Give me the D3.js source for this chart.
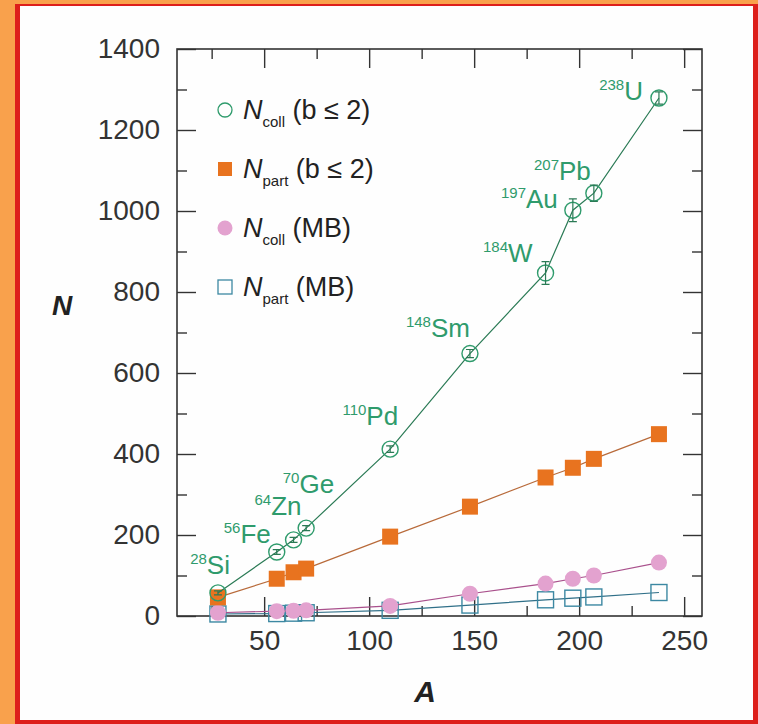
<!DOCTYPE html>
<html>
<head>
<meta charset="utf-8">
<script src="https://cdn.jsdelivr.net/npm/d3@7"></script>
<style>
body { margin: 0; background: #f9a14c; }
svg { display: block; font-family: "Liberation Sans", Arial, sans-serif; }
</style>
</head>
<body>
<div id="chart"></div>
<script>
// data
var massA      = [28, 56, 64, 70, 110, 148, 184, 197, 207, 238];
var nuclei     = [["28","Si"],["56","Fe"],["64","Zn"],["70","Ge"],["110","Pd"],["148","Sm"],["184","W"],["197","Au"],["207","Pb"],["238","U"]];
var ncollB2    = [57, 158, 188, 217, 412, 648, 847, 1002, 1044, 1279];
var ncollB2Err = [5, 6, 6, 6, 8, 10, 28, 28, 20, 15];
var npartB2    = [46, 92, 108, 117, 196, 270, 342, 366, 388, 449];
var ncollMB    = [8, 12, 13, 14, 25, 55, 80, 92, 100, 132];
var npartMB    = [5, 6, 7, 8, 14, 27, 40, 44, 47, 58];
var xMajor = [50, 100, 150, 200, 250];
var xMinor = [25, 75, 125, 175, 225];
var yMajor = [0, 200, 400, 600, 800, 1000, 1200, 1400];
var yMinor = [100, 300, 500, 700, 900, 1100, 1300];

// label placement offsets (px) relative to each point: [dx, dy] for end of label
var labelOffsets = [[12,-19],[-6,-9],[8,-25],[28,-35],[8,-24],[0,-17],[-13,-11],[-15,-2],[-3,-13],[-16,2]];

var W = 758, H = 724;
var svg = d3.select("#chart").append("svg")
    .attr("width", W).attr("height", H);

// frame
svg.append("rect").attr("x", 15).attr("y", 4).attr("width", 743).attr("height", 720).attr("fill", "#dd1f1b");
svg.append("rect").attr("x", 20).attr("y", 6).attr("width", 733).attr("height", 714).attr("fill", "#fefefe");

var x = d3.scaleLinear().domain([8.5, 258.5]).range([177, 702]);
var y = d3.scaleLinear().domain([0, 1400]).range([616, 49]);

var green = "#2f9b6c", greenDark = "#2a7a55";
var orange = "#e8731f";
var pink = "#e3a2cf", pinkLine = "#a9508c";
var blue = "#3c88a2", blueLine = "#2f6f88";

// axes
var axisColor = "#333";
var fmt = d3.format("d");
function styleAxis(g) {
  g.select(".domain").remove();
  g.selectAll("line").attr("stroke", axisColor).attr("stroke-width", 1.4);
  g.selectAll("text").attr("fill", "#333").style("font-size", "28px").style("font-family", "Liberation Sans, Arial, sans-serif");
}
svg.append("g").attr("transform", "translate(0,616)")
  .call(d3.axisBottom(x).tickValues(xMajor).tickSize(-19).tickPadding(14).tickFormat(fmt)).call(styleAxis);
svg.append("g").attr("transform", "translate(0,616)")
  .call(d3.axisBottom(x).tickValues(xMinor).tickSize(-10).tickFormat("")).call(styleAxis);
svg.append("g").attr("transform", "translate(0,49)")
  .call(d3.axisTop(x).tickValues(xMajor).tickSize(-19).tickFormat("")).call(styleAxis);
svg.append("g").attr("transform", "translate(0,49)")
  .call(d3.axisTop(x).tickValues(xMinor).tickSize(-10).tickFormat("")).call(styleAxis);
svg.append("g").attr("transform", "translate(177,0)")
  .call(d3.axisLeft(y).tickValues(yMajor).tickSize(-19).tickPadding(17).tickFormat(fmt)).call(styleAxis);
svg.append("g").attr("transform", "translate(177,0)")
  .call(d3.axisLeft(y).tickValues(yMinor).tickSize(-10).tickFormat("")).call(styleAxis);
svg.append("g").attr("transform", "translate(702,0)")
  .call(d3.axisRight(y).tickValues(yMajor).tickSize(-19).tickFormat("")).call(styleAxis);
svg.append("g").attr("transform", "translate(702,0)")
  .call(d3.axisRight(y).tickValues(yMinor).tickSize(-10).tickFormat("")).call(styleAxis);

svg.append("rect").attr("x", 177).attr("y", 49).attr("width", 525).attr("height", 567)
  .attr("fill", "none").attr("stroke", axisColor).attr("stroke-width", 1.6);

// axis titles
svg.append("text").attr("x", 62).attr("y", 315).attr("text-anchor", "middle")
  .style("font-size", "28px").style("font-weight", "bold").style("font-style", "italic")
  .attr("fill", "#222").text("N");
svg.append("text").attr("x", 425).attr("y", 702).attr("text-anchor", "middle")
  .style("font-size", "30px").style("font-weight", "bold").style("font-style", "italic")
  .attr("fill", "#222").text("A");

function pts(vals) { return massA.map(function(a, i) { return [a, vals[i]]; }); }
var line = d3.line().x(function(d) { return x(d[0]); }).y(function(d) { return y(d[1]); });

var plot = svg.append("g");

// N_part (MB) - open blue squares
plot.append("path").datum(pts(npartMB)).attr("d", line)
  .attr("fill", "none").attr("stroke", blueLine).attr("stroke-width", 1.2);
plot.selectAll(".sqMB").data(pts(npartMB)).enter().append("rect")
  .attr("x", function(d) { return x(d[0]) - 8; }).attr("y", function(d) { return y(d[1]) - 8; })
  .attr("width", 16).attr("height", 16)
  .attr("fill", "none").attr("stroke", blue).attr("stroke-width", 1.4);

// N_coll (MB) - pink filled circles
plot.append("path").datum(pts(ncollMB)).attr("d", line)
  .attr("fill", "none").attr("stroke", pinkLine).attr("stroke-width", 1.2);
plot.selectAll(".cMB").data(pts(ncollMB)).enter().append("circle")
  .attr("cx", function(d) { return x(d[0]); }).attr("cy", function(d) { return y(d[1]); })
  .attr("r", 8).attr("fill", pink);

// N_part (b<=2) - orange squares
plot.append("path").datum(pts(npartB2)).attr("d", line)
  .attr("fill", "none").attr("stroke", "#b86a3a").attr("stroke-width", 1.2);
plot.selectAll(".sqB").data(pts(npartB2)).enter().append("rect")
  .attr("x", function(d) { return x(d[0]) - 8; }).attr("y", function(d) { return y(d[1]) - 8; })
  .attr("width", 16).attr("height", 16).attr("fill", orange);

// N_coll (b<=2) - green open circles with error bars
plot.append("path").datum(pts(ncollB2)).attr("d", line)
  .attr("fill", "none").attr("stroke", greenDark).attr("stroke-width", 1.2);
var cg = plot.selectAll(".cB").data(pts(ncollB2)).enter().append("g");
cg.append("circle")
  .attr("cx", function(d) { return x(d[0]); }).attr("cy", function(d) { return y(d[1]); })
  .attr("r", 8).attr("fill", "none").attr("stroke", green).attr("stroke-width", 1.4);
cg.append("path")
  .attr("d", function(d, i) {
    var cx = x(d[0]), y1 = y(d[1] + ncollB2Err[i]), y2 = y(d[1] - ncollB2Err[i]);
    return "M" + cx + "," + y1 + "V" + y2 + "M" + (cx - 4) + "," + y1 + "H" + (cx + 4) + "M" + (cx - 4) + "," + y2 + "H" + (cx + 4);
  })
  .attr("fill", "none").attr("stroke", greenDark).attr("stroke-width", 1.2);

// nucleus labels
var lab = svg.selectAll(".nuc").data(nuclei).enter().append("text")
  .attr("x", function(d, i) { return x(massA[i]) + labelOffsets[i][0]; })
  .attr("y", function(d, i) { return y(ncollB2[i]) + labelOffsets[i][1]; })
  .attr("text-anchor", "end").attr("fill", green);
lab.append("tspan").style("font-size", "15px").attr("dy", -10).text(function(d) { return d[0]; });
lab.append("tspan").style("font-size", "26px").attr("dy", 10).text(function(d) { return d[1]; });

// legend
var legend = [
  {sym: "circleOpen", sub: "coll", rest: " (b \u2264 2)"},
  {sym: "squareFill", sub: "part", rest: " (b \u2264 2)"},
  {sym: "circleFill", sub: "coll", rest: " (MB)"},
  {sym: "squareOpen", sub: "part", rest: " (MB)"}
];
var lg = svg.selectAll(".leg").data(legend).enter().append("g")
  .attr("transform", function(d, i) { return "translate(225," + (110 + i * 59) + ")"; });
lg.each(function(d) {
  var g = d3.select(this);
  if (d.sym === "circleOpen") g.append("circle").attr("r", 7).attr("fill", "none").attr("stroke", green).attr("stroke-width", 1.3);
  if (d.sym === "circleFill") g.append("circle").attr("r", 7.5).attr("fill", pink);
  if (d.sym === "squareFill") g.append("rect").attr("x", -7).attr("y", -7).attr("width", 14).attr("height", 14).attr("fill", orange);
  if (d.sym === "squareOpen") g.append("rect").attr("x", -7).attr("y", -7).attr("width", 14).attr("height", 14).attr("fill", "none").attr("stroke", blue).attr("stroke-width", 1.3);
});
var lt = lg.append("text").attr("x", 18).attr("y", 9).attr("fill", "#222").style("font-size", "27px");
lt.append("tspan").style("font-style", "italic").text("N");
lt.append("tspan").style("font-size", "15px").attr("dy", 8).text(function(d) { return d.sub; });
lt.append("tspan").attr("dy", -8).text(function(d) { return d.rest; });
</script>
</body>
</html>
